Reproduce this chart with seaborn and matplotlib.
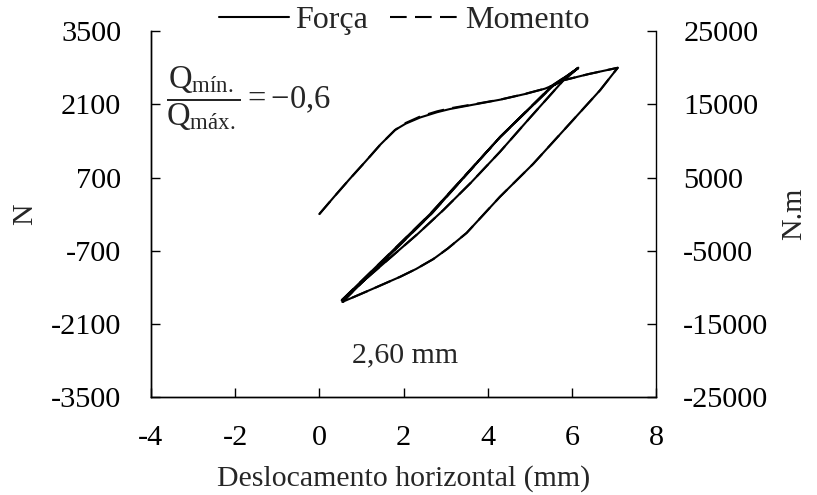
import seaborn as sns  # visualização
import matplotlib.pyplot as plt
import pandas as pd

# Dados (ciclo com Qmín/Qmáx = -0,6)
desloc_mm = [0.00, 0.35, 0.73, 1.10, 1.45, 1.80, 2.05, 2.40, 2.80, 3.10, 3.70, 4.30, 4.90, 5.36, 5.60, 5.85, 6.15,
             5.90, 5.56, 4.29, 2.63, 1.50, 0.53,
             0.85, 1.65, 2.35, 2.95, 3.60, 4.29, 5.00, 5.80, 6.40, 7.09,
             6.67, 5.87, 5.08, 4.29, 3.50, 3.05, 2.71, 2.30, 1.92, 1.24, 0.55,
             1.00, 1.55, 2.68, 4.30, 5.55, 6.15]
forca_N = [0, 330, 680, 1010, 1330, 1610, 1730, 1850, 1950, 2010, 2100, 2190, 2300, 2400, 2480, 2620, 2800,
           2620, 2460, 1470, 0, -890, -1650,
           -1420, -860, -370, 80, 600, 1190, 1840, 2560, 2680, 2800,
           2370, 1660, 960, 330, -360, -660, -860, -1050, -1200, -1440, -1680,
           -1320, -880, 20, 1480, 2470, 2790]
momento_Nm = [0, 2360, 4860, 7210, 9500, 11500, 12450, 13350, 14050, 14450, 15050, 15650, 16450, 17150, 17700, 18700, 20000,
              18710, 17570, 10500, 0, -6360, -11790,
              -10140, -6140, -2640, 570, 4290, 8500, 13140, 18290, 19140, 20000,
              16930, 11860, 6860, 2360, -2570, -4710, -6140, -7500, -8570, -10290, -12000,
              -9430, -6290, 140, 10570, 17640, 19930]

xticks = [-4, -2, 0, 2, 4, 6, 8]
yticks_N = [-3500, -2100, -700, 700, 2100, 3500]
yticks_Nm = [-25000, -15000, -5000, 5000, 15000, 25000]

df = pd.DataFrame({'desloc': desloc_mm, 'forca': forca_N, 'momento': momento_Nm})

sns.set_style('ticks')
plt.rcParams['font.family'] = ['Liberation Serif', 'DejaVu Serif']
plt.rcParams['mathtext.fontset'] = 'custom'
plt.rcParams['mathtext.rm'] = 'Liberation Serif'
plt.rcParams['mathtext.it'] = 'Liberation Serif:italic'
plt.rcParams['axes.edgecolor'] = 'black'
plt.rcParams['axes.linewidth'] = 1.0
plt.rcParams['axes.unicode_minus'] = False
fs = 21.8

fig, ax = plt.subplots(figsize=(8.17, 4.95), dpi=100)
fig.subplots_adjust(left=0.1848, right=0.803, top=0.937, bottom=0.198)
ax2 = ax.twinx()

sns.lineplot(data=df, x='desloc', y='forca', sort=False, estimator=None,
             color='black', lw=1.5, ax=ax, label='Força')
sns.lineplot(data=df, x='desloc', y='momento', sort=False, estimator=None,
             color='black', lw=1.5, linestyle=(0, (8, 4)), ax=ax2, label='Momento')

ax.set_xlim(-4, 8)
ax.set_ylim(-3500, 3500)
ax2.set_ylim(-25000, 25000)
ax.set_xticks(xticks)
ax.set_yticks(yticks_N)
ax2.set_yticks(yticks_Nm)

for a in (ax, ax2):
    a.spines['top'].set_visible(False)
ax.spines['right'].set_visible(False)

ax.tick_params(axis='y', direction='in', length=6.5, width=1, pad=21.5, labelsize=fs, colors='black')
ax.tick_params(axis='x', direction='in', length=6.5, width=1, pad=20, labelsize=fs, colors='black')
ax2.tick_params(axis='y', direction='in', length=6.5, width=1, pad=19.5, labelsize=fs, colors='black')

ax.set_xlabel('Deslocamento horizontal (mm)', fontsize=21.5)
ax.set_ylabel('N', fontsize=21.5)
ax2.set_ylabel('N.m', fontsize=21.5)
ax.xaxis.set_label_coords(0.5, -0.186)
ax.yaxis.set_label_coords(-0.224, 0.5)
ax2.yaxis.set_label_coords(1.2475, 0.5)

# legenda
h1, l1 = ax.get_legend_handles_labels()
h2, l2 = ax2.get_legend_handles_labels()
ax.get_legend().remove()
ax2.get_legend().remove()
ax2.legend(h1 + h2, l1 + l2, loc='center', bbox_to_anchor=(0.502, 1.03), ncol=2, frameon=False,
           handlelength=2.2, handletextpad=0.17, columnspacing=0.7, fontsize=23,
           borderaxespad=0, borderpad=0)

ax.text(-3.64, 2200, r'$\dfrac{\mathrm{Q}_{\mathrm{mín.}}}{\mathrm{Q}_{\mathrm{máx.}}} = -0{,}6$',
        ha='left', va='center', fontsize=23.5)
ax.text(2.04, -2700, '2,60 mm', ha='center', va='center', fontsize=21.5)

fig.savefig('out.png', dpi=100)
